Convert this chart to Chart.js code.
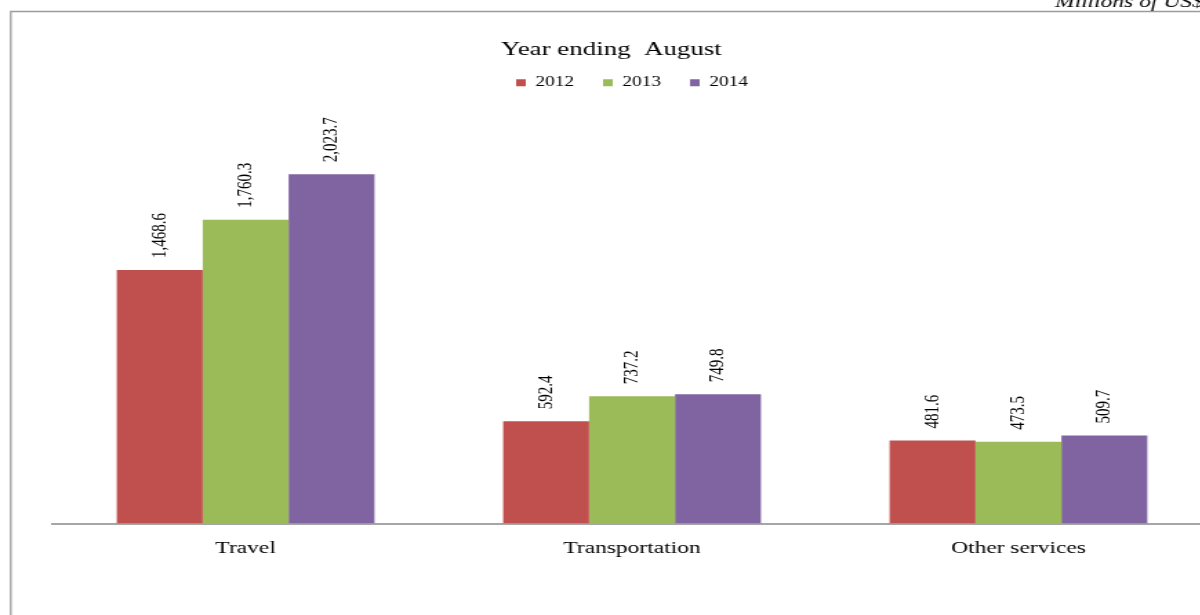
<!DOCTYPE html>
<html>
<head>
<meta charset="utf-8">
<script src="https://cdn.jsdelivr.net/npm/chart.js@4.4.1/dist/chart.umd.min.js"></script>
<style>
    body { margin: 0; overflow: hidden; background: #fff; }
    /* the original picture is stretched sideways, so the whole canvas is too */
    #wrap { width: 880px; height: 615px; transform: scaleX(1.38); transform-origin: 0 0; }
</style>
</head>
<body>
<div id="wrap"><canvas id="barChart" width="880" height="615"></canvas></div>
<script>
const categories = ['Travel', 'Transportation', 'Other services'];
const years = ['2012', '2013', '2014'];
const values2012 = [1468.6, 592.4, 481.6];
const values2013 = [1760.3, 737.2, 473.5];
const values2014 = [2023.7, 749.8, 509.7];
const unitText = 'Millions of US$';

const serif = "'Liberation Serif', 'Times New Roman', serif";
let cor_2012 = '#C0504D';
let cor_2013 = '#9BBB59';
let cor_2014 = '#8064A2';

// frame lines + unit text in the top right corner
const framePlugin = {
    id: 'frame',
    beforeDraw(chart) {
        const c = chart.ctx;
        c.save();
        c.strokeStyle = '#9c9c9c';
        c.lineWidth = 1.3;
        c.beginPath();
        c.moveTo(7.8, chart.height);
        c.lineTo(7.8, 11.5);
        c.lineTo(chart.width, 11.5);
        c.stroke();
        c.fillStyle = '#000';
        c.font = 'italic 17px ' + serif;
        c.textAlign = 'left';
        c.textBaseline = 'alphabetic';
        c.fillText(unitText, 764.5, 7);
        c.restore();
    }
};

// rotated value labels above each bar
const labelPlugin = {
    id: 'barLabels',
    afterDatasetsDraw(chart) {
        const c = chart.ctx;
        c.save();
        c.fillStyle = '#000';
        c.font = '15px ' + serif;
        c.textAlign = 'left';
        c.textBaseline = 'middle';
        chart.data.datasets.forEach((ds, i) => {
            chart.getDatasetMeta(i).data.forEach((bar, j) => {
                let txt = ds.data[j].toLocaleString('en-US', { minimumFractionDigits: 1, maximumFractionDigits: 1 });
                c.save();
                c.translate(bar.x, bar.y - 12);
                c.rotate(-Math.PI / 2);
                c.fillText(txt, 0, 0);
                c.restore();
            });
        });
        c.restore();
    }
};

function barChart() {
    const ctx = document.getElementById('barChart');
    new Chart(ctx, {
        type: 'bar',
        data: {
            labels: categories,
            datasets: [{
                    label: years[0],
                    data: values2012,
                    backgroundColor: cor_2012,
                },
                {
                    label: years[1],
                    data: values2013,
                    backgroundColor: cor_2013,
                },
                {
                    label: years[2],
                    data: values2014,
                    backgroundColor: cor_2014,
                }
            ]
        },
        options: {
            responsive: false,
            devicePixelRatio: 1,
            animation: false,
            categoryPercentage: 0.667,
            barPercentage: 1.0,
            layout: {
                padding: { left: 8, right: 2, top: 0, bottom: 41 }
            },
            plugins: {
                title: {
                    display: true,
                    text: 'Year ending  August',
                    color: '#000',
                    font: { family: serif, size: 19.5, weight: 'normal', lineHeight: 0.5 },
                    padding: { top: 45, bottom: 0 }
                },
                legend: {
                    display: true,
                    position: 'top',
                    fullSize: false,
                    labels: {
                        color: '#000',
                        font: { family: serif, size: 14 },
                        boxWidth: 7,
                        boxHeight: 7,
                        padding: 21
                    }
                },
                tooltip: { enabled: false }
            },
            scales: {
                x: {
                    grid: { display: false, drawTicks: false },
                    border: { display: true, color: '#a6a6a6', width: 2 },
                    ticks: {
                        color: '#000',
                        font: { family: serif, size: 17 },
                        padding: 15
                    }
                },
                y: {
                    // invisible axis that only keeps the empty strip on the left
                    display: true,
                    min: 0,
                    max: 2455,
                    grid: { display: false, drawTicks: false },
                    border: { display: false },
                    ticks: { display: false },
                    afterFit(scale) {
                        scale.width = 30;
                    }
                }
            }
        },
        plugins: [framePlugin, labelPlugin]
    });
}

barChart();
</script>
</body>
</html>
